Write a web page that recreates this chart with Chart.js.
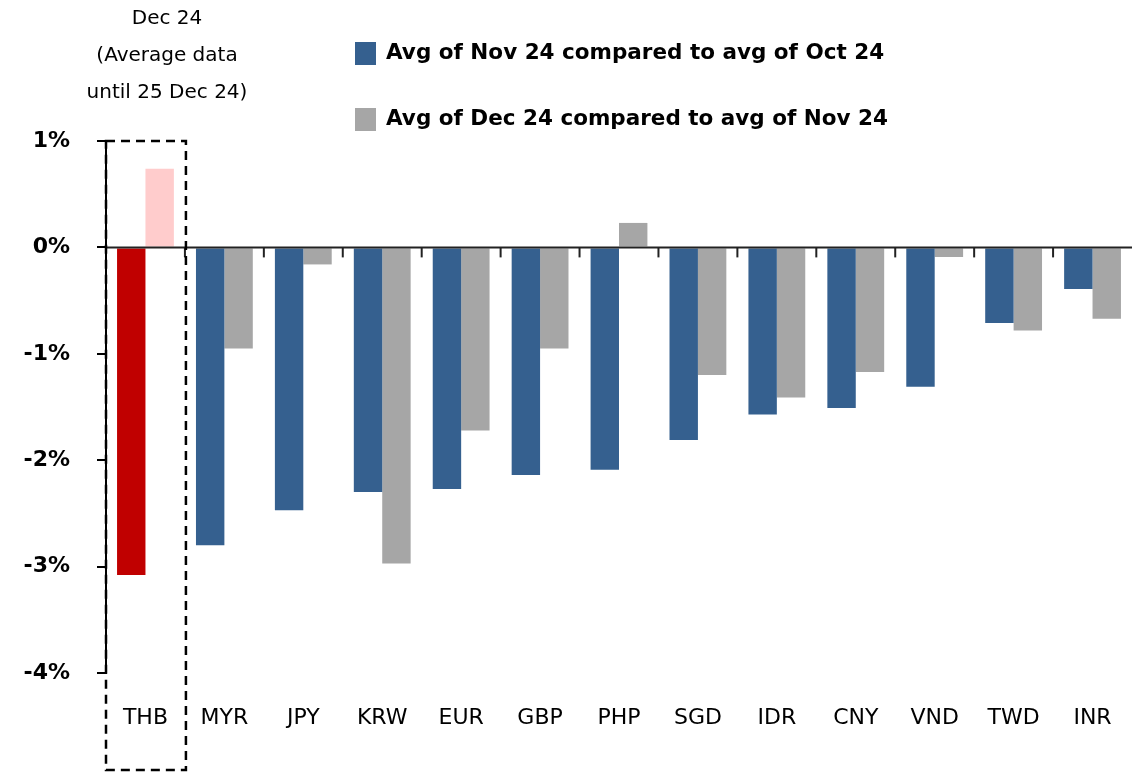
<!DOCTYPE html>
<html>
<head>
<meta charset="utf-8">
<script src="https://cdn.jsdelivr.net/npm/chart.js@4/dist/chart.umd.min.js"></script>
<style>
  html, body { margin: 0; padding: 0; background: #fff; }
  #wrap { width: 1132px; height: 773px; }
</style>
</head>
<body>
<div id="wrap"><canvas id="myChart" width="1132" height="773"></canvas></div>
<script>
// data (% change)
const currencies = ['THB', 'MYR', 'JPY', 'KRW', 'EUR', 'GBP', 'PHP', 'SGD', 'IDR', 'CNY', 'VND', 'TWD', 'INR'];
const novVsOct = [-3.08, -2.80, -2.47, -2.30, -2.27, -2.14, -2.09, -1.81, -1.57, -1.51, -1.31, -0.71, -0.39];
const decVsNov = [0.74, -0.95, -0.16, -2.97, -1.72, -0.95, 0.23, -1.20, -1.41, -1.17, -0.09, -0.78, -0.67];
const seriesNames = ['Avg of Nov 24 compared to avg of Oct 24', 'Avg of Dec 24 compared to avg of Nov 24'];
const noteLines = ['Dec 24', '(Average data', 'until 25 Dec 24)'];

const blue = '#35608F';
const grey = '#A6A6A6';
const FONT = '"DejaVu Sans", "Open Sans", sans-serif';

// THB highlighted in red / pink
const blueColors = currencies.map((c, i) => i === 0 ? '#C00000' : blue);
const greyColors = currencies.map((c, i) => i === 0 ? '#FFCCCC' : grey);

const extras = {
  id: 'extras',
  afterDatasetsDraw(chart) {
    const ctx = chart.ctx;
    const x = chart.scales.x;
    const y = chart.scales.y;
    const y0 = y.getPixelForValue(0);
    ctx.save();
    // zero line
    ctx.strokeStyle = '#222';
    ctx.lineWidth = 2;
    ctx.beginPath();
    ctx.moveTo(chart.chartArea.left, y0);
    ctx.lineTo(chart.chartArea.right, y0);
    ctx.stroke();
    // category boundary ticks
    for (let i = 1; i < currencies.length; i++) {
      const bx = (x.getPixelForValue(i - 1) + x.getPixelForValue(i)) / 2;
      ctx.beginPath();
      ctx.moveTo(bx, y0);
      ctx.lineTo(bx, y0 + 10);
      ctx.stroke();
    }
    // dashed box around THB
    const right = (x.getPixelForValue(0) + x.getPixelForValue(1)) / 2 + 1;
    ctx.setLineDash([9, 6]);
    ctx.lineWidth = 2.5;
    ctx.strokeStyle = '#000';
    ctx.strokeRect(chart.chartArea.left, y.getPixelForValue(1), right - chart.chartArea.left, 770 - y.getPixelForValue(1));
    ctx.restore();
  },
  afterDraw(chart) {
    const ctx = chart.ctx;
    ctx.save();
    ctx.fillStyle = '#000';
    ctx.textBaseline = 'middle';
    // note above THB
    ctx.font = '20px ' + FONT;
    ctx.textAlign = 'center';
    noteLines.forEach((t, i) => ctx.fillText(t, 167, 19 + i * 37));
    // legend
    ctx.textAlign = 'left';
    ctx.font = 'bold 21.5px ' + FONT;
    const cols = [blue, grey];
    seriesNames.forEach((t, i) => {
      const ly = 53 + i * 66;
      ctx.fillStyle = cols[i];
      ctx.fillRect(355, ly - 11, 21, 23);
      ctx.fillStyle = '#000';
      ctx.fillText(t, 386, ly);
    });
    ctx.restore();
  }
};

const config = {
  type: 'bar',
  data: {
    labels: currencies,
    datasets: [
      { label: seriesNames[0], data: novVsOct, backgroundColor: blueColors },
      { label: seriesNames[1], data: decVsNov, backgroundColor: greyColors }
    ]
  },
  options: {
    responsive: false,
    animation: false,
    events: [],
    barPercentage: 1,
    categoryPercentage: 0.72,
    layout: { padding: { top: 141, right: -6, left: 0, bottom: 0 } },
    plugins: {
      legend: { display: false },
      tooltip: { enabled: false }
    },
    scales: {
      x: {
        // invisible tick marks push the labels down without adding side padding
        grid: { display: true, drawOnChartArea: false, color: 'rgba(0,0,0,0)', tickLength: 32 },
        border: { display: false },
        ticks: { color: '#000', font: { family: FONT, size: 22 }, padding: 0, maxRotation: 0 },
        afterFit(scale) { scale.height = 100; }
      },
      y: {
        min: -4,
        max: 1,
        border: { display: true, color: '#000', width: 2 },
        grid: { drawOnChartArea: false, drawTicks: true, tickLength: 9, color: '#000', lineWidth: 2 },
        ticks: {
          stepSize: 1,
          color: '#000',
          padding: 27,
          font: { family: FONT, size: 22, weight: '600' },
          callback: v => v + '%'
        },
        afterFit(scale) { scale.width = 106; }
      }
    }
  },
  plugins: [extras]
};

const myChart = new Chart(document.getElementById('myChart'), config);
</script>
</body>
</html>
